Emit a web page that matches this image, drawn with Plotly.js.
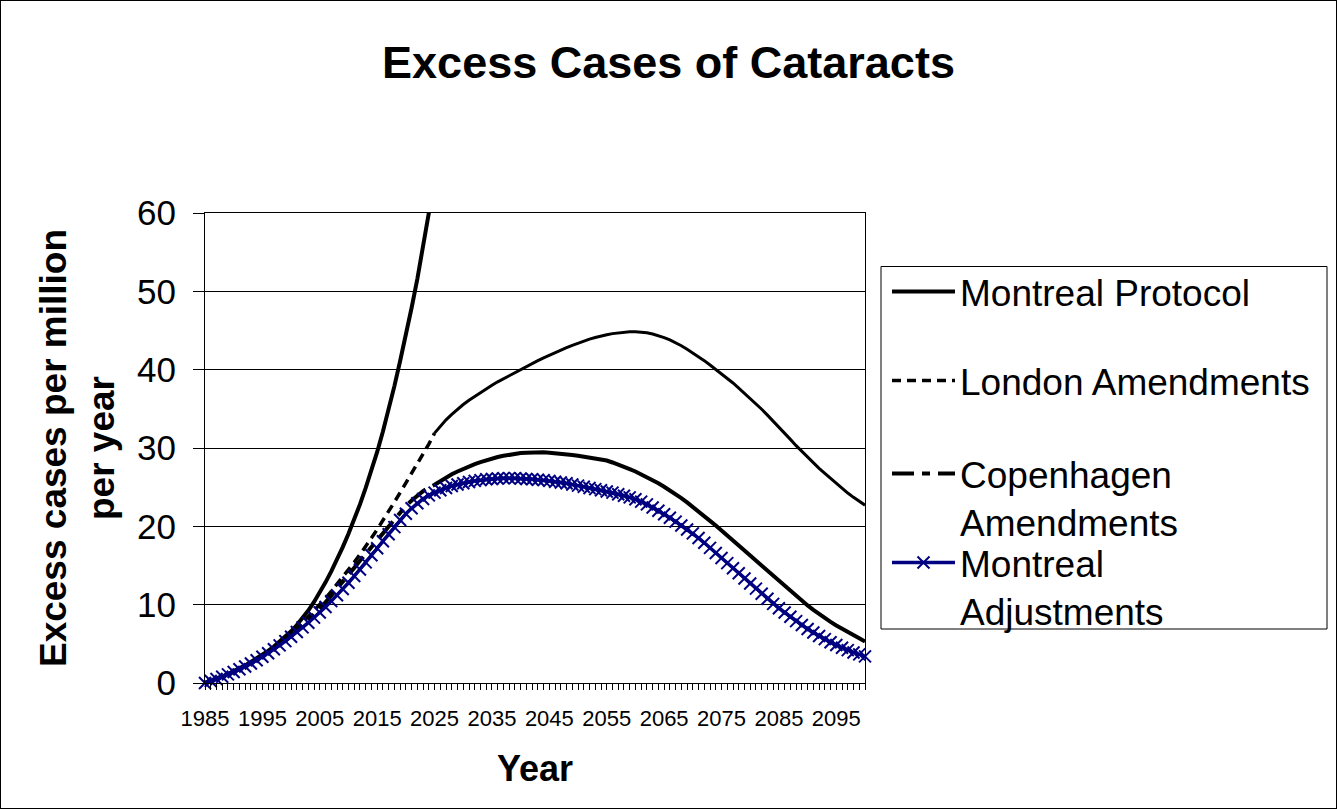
<!DOCTYPE html>
<html>
<head>
<meta charset="utf-8">
<script src="https://cdn.plot.ly/plotly-3.0.1.min.js"></script>
<style>
  html, body { margin: 0; padding: 0; background: #fff; }
  #wrap { position: relative; width: 1337px; height: 809px; }
  #chart { width: 1337px; height: 809px; }
  #frame { position: absolute; left: 0; top: 0; width: 1337px; height: 809px; box-sizing: border-box; border: 1px solid #000; pointer-events: none; }
</style>
</head>
<body>
<div id="wrap"><div id="chart"></div><div id="frame"></div></div>
<script>
// Categories (years)
const years = [
  1985,1986,1987,1988,1989,1990,1991,1992,1993,1994,
  1995,1996,1997,1998,1999,2000,2001,2002,2003,2004,
  2005,2006,2007,2008,2009,2010,2011,2012,2013,2014,
  2015,2016,2017,2018,2019,2020,2021,2022,2023,2024,
  2025,2026,2027,2028,2029,2030,2031,2032,2033,2034,
  2035,2036,2037,2038,2039,2040,2041,2042,2043,2044,
  2045,2046,2047,2048,2049,2050,2051,2052,2053,2054,
  2055,2056,2057,2058,2059,2060,2061,2062,2063,2064,
  2065,2066,2067,2068,2069,2070,2071,2072,2073,2074,
  2075,2076,2077,2078,2079,2080,2081,2082,2083,2084,
  2085,2086,2087,2088,2089,2090,2091,2092,2093,2094,
  2095,2096,2097,2098,2099,2100
];

// Montreal Protocol (1985-2025, leaves the chart above 60)
const montrealProtocol = [
  0,0.25,0.5,0.8,1.15,1.5,1.85,2.25,2.7,3.15,
  3.6,4.1,4.65,5.25,5.9,6.6,7.4,8.25,9.25,10.35,
  11.55,12.85,14.25,15.75,17.35,19.05,20.85,22.8,24.9,27.1,
  29.5,32.1,34.9,37.9,41.1,44.4,47.9,51.6,55.6,59.8,
  64.2
];

// London Amendments (1985-2100)
const londonAmendments = [
  0,0.25,0.5,0.8,1.1,1.45,1.8,2.2,2.6,3.05,
  3.5,3.95,4.45,5.0,5.6,6.25,6.95,7.7,8.45,9.2,
  10.0,10.8,11.7,12.6,13.5,14.4,15.4,16.4,17.4,18.5,
  19.6,20.7,21.9,23.1,24.3,25.5,26.7,27.9,29.2,30.5,
  31.9,32.8,33.6,34.3,34.95,35.55,36.1,36.6,37.1,37.55,
  38.0,38.45,38.85,39.25,39.65,40.05,40.45,40.8,41.15,41.5,
  41.85,42.2,42.5,42.8,43.1,43.4,43.65,43.9,44.1,44.3,
  44.45,44.6,44.7,44.8,44.85,44.85,44.8,44.7,44.55,44.35,
  44.1,43.8,43.45,43.05,42.6,42.15,41.65,41.15,40.6,40.05,
  39.5,38.9,38.3,37.65,37.0,36.35,35.65,34.95,34.2,33.45,
  32.7,31.9,31.1,30.3,29.55,28.8,28.1,27.4,26.75,26.1,
  25.45,24.85,24.25,23.7,23.2,22.7
];

// Copenhagen Amendments (1985-2100)
const copenhagenAmendments = [
  0,0.25,0.5,0.8,1.1,1.45,1.8,2.15,2.55,3.0,
  3.45,3.9,4.4,4.9,5.45,6.0,6.6,7.3,8.0,8.75,
  9.5,10.3,11.15,12.0,12.9,13.8,14.7,15.6,16.5,17.4,
  18.3,19.2,20.1,20.95,21.8,22.6,23.3,23.95,24.5,24.95,
  25.3,25.8,26.25,26.65,27.0,27.35,27.65,27.95,28.2,28.45,
  28.65,28.85,29.0,29.15,29.25,29.35,29.4,29.45,29.45,29.45,
  29.4,29.35,29.3,29.2,29.1,29.0,28.9,28.8,28.7,28.55,
  28.4,28.15,27.9,27.6,27.3,27.0,26.65,26.3,25.9,25.5,
  25.05,24.6,24.1,23.6,23.05,22.5,21.9,21.3,20.7,20.1,
  19.5,18.85,18.2,17.55,16.9,16.25,15.6,14.95,14.3,13.65,
  13.0,12.35,11.7,11.1,10.5,9.9,9.35,8.8,8.3,7.8,
  7.35,6.9,6.5,6.1,5.7,5.3
];

// Montreal Adjustments (1985-2100)
const montrealAdjustments = [
  0,0.25,0.5,0.8,1.1,1.4,1.75,2.1,2.5,2.9,
  3.35,3.8,4.3,4.8,5.35,5.9,6.5,7.1,7.7,8.35,
  9.0,9.7,10.45,11.2,12.0,12.8,13.65,14.5,15.4,16.3,
  17.2,18.1,19.0,19.9,20.8,21.6,22.3,22.95,23.5,23.95,
  24.3,24.6,24.9,25.15,25.35,25.5,25.65,25.8,25.9,26.0,
  26.05,26.1,26.15,26.15,26.15,26.1,26.05,26.0,25.95,25.9,
  25.8,25.7,25.6,25.5,25.35,25.2,25.05,24.9,24.75,24.6,
  24.45,24.3,24.1,23.9,23.7,23.45,23.15,22.8,22.4,22.0,
  21.55,21.1,20.6,20.1,19.6,19.1,18.5,17.9,17.25,16.6,
  15.95,15.3,14.65,14.0,13.35,12.7,12.05,11.4,10.75,10.1,
  9.55,9.0,8.45,7.9,7.4,6.9,6.45,6.0,5.6,5.2,
  4.85,4.5,4.2,3.9,3.65,3.4
];

const seriesNames = ['Montreal Protocol', 'London Amendments', 'Copenhagen<br>Amendments', 'Montreal<br>Adjustments'];
const yTicks = [0, 10, 20, 30, 40, 50, 60];
const xTickLabels = [1985, 1995, 2005, 2015, 2025, 2035, 2045, 2055, 2065, 2075, 2085, 2095];

const FONT = 'Arial, "Liberation Sans", sans-serif';
const splitIdx = years.indexOf(2025);

// pixel helpers for legend placement (plot area: x 205..865, y 213..683)
const px2x = p => (p - 205) / 660;
const px2y = p => (683 - p) / 470;

const traces = [
  {
    x: years.slice(0, montrealProtocol.length), y: montrealProtocol,
    name: seriesNames[0], legend: 'legend', mode: 'lines',
    line: { color: '#000000', width: 4 }
  },
  {
    x: years.slice(0, splitIdx + 1), y: londonAmendments.slice(0, splitIdx + 1),
    name: seriesNames[1], legend: 'legend2', mode: 'lines',
    line: { color: '#000000', width: 3.5, dash: '9px,6px' }
  },
  {
    x: years.slice(splitIdx), y: londonAmendments.slice(splitIdx),
    name: seriesNames[1], showlegend: false, mode: 'lines',
    line: { color: '#000000', width: 3 }
  },
  {
    x: years.slice(0, splitIdx + 1), y: copenhagenAmendments.slice(0, splitIdx + 1),
    name: seriesNames[2], legend: 'legend3', mode: 'lines',
    line: { color: '#000000', width: 4, dash: '22px,8px,8px,8px' }
  },
  {
    x: years.slice(splitIdx), y: copenhagenAmendments.slice(splitIdx),
    name: seriesNames[2], showlegend: false, mode: 'lines',
    line: { color: '#000000', width: 4 }
  },
  {
    x: years, y: montrealAdjustments,
    name: seriesNames[3], legend: 'legend4', mode: 'lines+markers',
    cliponaxis: false,
    line: { color: '#000080', width: 3.5 },
    marker: { symbol: 'x-thin', size: 12, color: '#000080', line: { color: '#000080', width: 2 } }
  }
];

function legendAt(topPx) {
  return {
    x: px2x(887), xanchor: 'left',
    y: px2y(topPx), yanchor: 'top',
    bgcolor: 'rgba(0,0,0,0)', borderwidth: 0,
    font: { family: FONT, size: 37, color: '#000000' },
    valign: 'top', itemwidth: 63
  };
}

const layout = {
  width: 1337, height: 809,
  paper_bgcolor: '#ffffff', plot_bgcolor: '#ffffff',
  font: { family: FONT, color: '#000000' },
  margin: { l: 205, r: 472, t: 213, b: 126, pad: 0 },
  title: {
    text: '<b>Excess Cases of Cataracts</b>',
    font: { family: FONT, size: 45, color: '#000000' },
    x: 0.5, xref: 'container', xanchor: 'center',
    y: 1 - 62 / 809, yref: 'container', yanchor: 'middle'
  },
  xaxis: {
    range: [1985, 2100],
    tickmode: 'array', tickvals: xTickLabels, ticktext: xTickLabels.map(String),
    ticks: 'outside', ticklen: 6, tickwidth: 1, tickcolor: '#000000',
    minor: { tickmode: 'linear', tick0: 1985, dtick: 1, ticks: 'outside', ticklen: 6, tickwidth: 1, tickcolor: '#000000', showgrid: false },
    showgrid: false, zeroline: false,
    showline: true, linecolor: '#000000', linewidth: 1, mirror: true,
    tickfont: { family: FONT, size: 22, color: '#000000' },
    ticklabelstandoff: 10,
    title: { text: '<b>Year</b>', font: { family: FONT, size: 36, color: '#000000' }, standoff: 25 }
  },
  yaxis: {
    range: [0, 60],
    tickmode: 'array', tickvals: yTicks,
    ticks: 'outside', ticklen: 11, tickwidth: 1, tickcolor: '#000000',
    showgrid: true, gridcolor: '#000000', gridwidth: 1,
    zeroline: false,
    showline: true, linecolor: '#000000', linewidth: 1, mirror: true,
    tickfont: { family: FONT, size: 35, color: '#000000' },
    ticklabelstandoff: 10,
    title: { text: '<b>Excess cases per million<br>per year</b>', font: { family: FONT, size: 37, color: '#000000' }, standoff: 11 }
  },
  showlegend: true,
  legend: legendAt(294 - 33),
  legend2: legendAt(383 - 33),
  legend3: legendAt(476 - 33),
  legend4: legendAt(565 - 33),
  shapes: [
    {
      type: 'rect', xref: 'paper', yref: 'paper',
      x0: px2x(881), x1: px2x(1327), y0: px2y(629), y1: px2y(266.5),
      line: { color: '#000000', width: 1 }, fillcolor: 'rgba(0,0,0,0)', layer: 'below'
    }
  ]
};

Plotly.newPlot('chart', traces, layout, { displayModeBar: false, responsive: false });
</script>
</body>
</html>
